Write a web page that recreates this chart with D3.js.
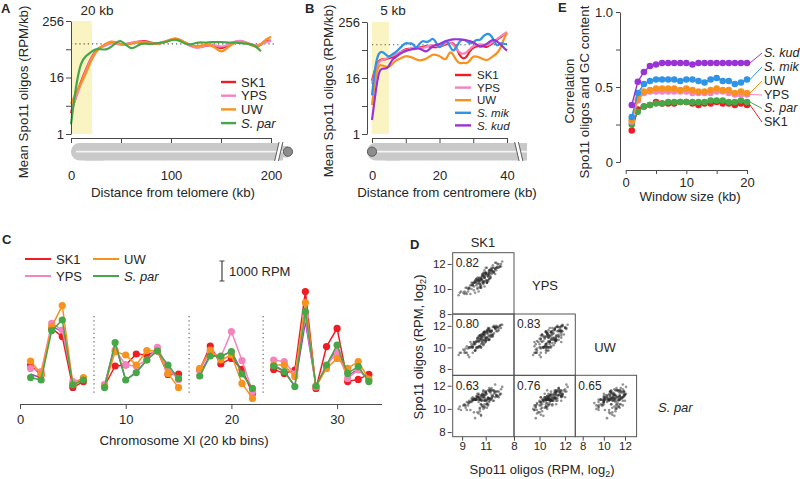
<!DOCTYPE html>
<html><head><meta charset="utf-8">
<script src="https://cdn.jsdelivr.net/npm/d3@7/dist/d3.min.js"></script>
<style>
body{margin:0;background:#fff;}
svg{display:block;font-family:"Liberation Sans",Arial,Helvetica,sans-serif;}
</style></head><body>
<svg id="c" width="800" height="479"></svg>
<script>
// ---------------- DATA ----------------
// Panel A: distance from telomere (kb) and mean Spo11 oligos (RPM/kb)
const aDist = [0,5,10,15,20,25,30,35,40,45,50,55,60,65,70,75,80,85,90,95,100,105,110,115,120,125,130,135,140,145,150,155,160,165,170,175,180,185,190,195,200];
const aSK1  = [2.8,6.5,13,24,42,62,72,80,90,86,80,82,86,90,95,96,88,84,86,92,102,110,98,88,76,70,72,76,80,72,66,72,84,94,96,88,80,72,80,96,98];
const aYPS  = [3.0,6,12,23,40,60,70,78,86,84,80,84,88,92,94,92,86,84,88,95,104,106,96,84,74,68,70,78,82,76,72,76,86,96,98,90,82,76,82,92,96];
const aUW   = [4.4,7.5,12,20,36,58,72,84,96,90,82,80,84,88,92,90,84,82,86,94,104,112,100,86,78,74,76,80,78,68,54,64,80,90,92,86,78,70,82,104,118];
const aSpar = [1.6,11,36,46,56,66,64,62,70,90,100,80,64,72,86,84,82,86,88,92,100,104,94,82,80,88,90,88,92,90,92,90,88,90,86,84,82,74,58];
const genomeAvg = 83;
// Panel B: distance from centromere (kb)
const bDist = [0,1,2,3,4,5,6,7,8,9,10,11,12,13,14,15,16,17,18,19,20,21,22,23,24,25,26,27,28,29,30,31,32,33,34,35,36,37,38,39,40];
const bSK1  = [14,27,38,41,39,44,44,48,54,62,67,68,70,71,73,74,79,76,73,74,75,80,86,90,93,73,48,41,44,62,73,76,79,76,73,82,93,105,119,135,151];
const bYPS  = [12,24,36,40,40,46,48,52,56,60,64,66,72,74,72,70,74,80,82,78,74,82,92,96,86,68,56,52,56,68,78,82,86,84,80,86,98,110,124,140,156];
const bUW   = [4.2,17,32,29.5,28,27,32,38,41,44,48,46,44,40,38,39,41,46,52,50,48,42,38,62,52,38,32,35,32,38,48,46,44,40,38,42,48,54,67,109,151];
const bMik  = [6.8,32,57,60,52,44,52,57,67,79,93,86,93,67,86,104,93,98,119,93,67,86,109,79,57,73,101,109,101,86,93,109,101,129,144,140,109,73,93,86,86];
const bKud  = [2.0,7.4,23,26,25,28,41,44,52,56,62,64,67,68,70,64,57,66,79,82,86,93,101,105,109,109,109,106,104,100,93,84,73,80,86,98,109,98,86,72,62];
// Panel C: chromosome XI, 20 kb bins (RPM)
const cBins = [1,2,3,4,5,6,8,9,10,11,12,13,14,15,17,18,19,20,21,22,24,25,26,27,28,29,30,31,32,33];
const cSK1  = [1950,1450,3780,3370,830,1120,900,1900,1950,2500,2450,2650,1480,1500,1700,2900,2000,2280,1730,530,1730,1530,1700,5620,780,2870,3780,1120,1230,1480];
const cYPS  = [1780,1620,4030,3700,1120,1250,980,2700,1950,1900,2200,2830,1750,1230,1700,2620,2350,3620,2170,620,2200,2120,1500,4370,860,1900,2620,1280,1700,1200];
const cUW   = [2150,1500,3870,4920,980,1320,880,2620,2450,1950,2670,2650,1530,820,1780,2700,2200,2450,1030,280,1950,1950,1370,5070,870,1780,2280,1780,2120,1250];
const cSpar = [1320,1200,3670,4200,950,1200,820,3070,1200,1570,2200,2650,1950,1280,1400,2400,2400,2620,1500,780,1900,1620,870,4620,900,1950,2950,1530,1870,1120];
const cExtra = [1500,1300,3900,3600,1000,1200,950,3000,1200,1600,2200,2750,1800,1250,1500,2450,2350,2650,1600,750,1950,1650,900,4100,880,1950,2800,1400,1750,1200];
const cArmEnds = [7,16,23];
// Panel D: Spo11 oligos per bin (RPM, log2)
const dSK1 = [10.2,10.8,11.3,9.6,10.5,11.0,11.7,10.1,10.9,11.4,9.3,10.6,11.1,11.9,10.4,10.0,10.7,11.2,12.1,9.8,10.3,11.5,10.8,9.1,10.6,11.0,11.8,10.2,10.9,11.3,8.7,10.5,11.6,10.1,10.8,11.2,12.3,9.9,10.4,11.1,10.7,9.5,11.4,10.9,10.3,11.7,10.6,11.0,9.7,12.0,10.2,11.3,10.8,11.5,9.4,10.6,11.1,10.0,11.9,10.5,11.2,10.7,8.9,11.6,10.4,11.0,10.9,12.2,10.1,11.4,10.8,9.9,11.3,10.6,11.8,10.3,9.2,11.1,10.7,11.5,11.0,10.5,12.4,9.6,10.9,11.2,10.4,11.7,10.8,11.3,
  10.6,11.1,9.8,10.4,11.5,10.9,12.0,10.3,11.2,9.5,10.7,11.4,10.1,11.8,10.5,9.9,11.0,11.6,10.2,12.2,10.8,9.4,11.3,10.6,11.9,10.0,11.1,10.4,8.8,11.5,10.9,11.7,10.3,9.7,11.2,10.6,12.1,10.8,11.0,9.3,11.4,10.5,10.1,11.8,10.7,11.3,9.6,10.9,11.6,10.2,11.0,12.3,10.4,9.9,11.2,10.8,11.5,10.0,10.6,11.9,9.2,11.1,10.7,11.4,10.3,12.0,10.9,9.8,11.3,10.5];
const dYPS = [10.5,10.6,11.4,10.1,10.1,11.2,11.4,10.7,10.9,10.9,9.7,10.7,10.5,12.1,10.7,9.9,11.2,11.0,11.7,10.5,10.0,11.5,11.2,9.7,10.1,11.3,11.6,10.3,10.2,11.5,9.5,10.4,11.9,9.7,11.3,11.2,12.0,10.3,10.6,10.5,10.5,10.0,11.5,10.6,10.9,11.3,10.8,11.7,9.6,12.0,10.6,10.8,11.1,11.6,9.6,10.3,11.7,10.5,11.7,10.4,11.3,11.1,9.8,11.4,9.8,11.3,10.9,11.8,10.6,11.6,10.4,10.5,11.2,10.8,12.1,10.1,9.6,10.6,10.8,11.5,11.3,10.2,12.2,10.1,11.0,10.6,10.8,11.7,10.5,11.5,
  10.8,10.7,10.3,10.5,11.2,11.5,11.8,10.7,10.7,9.8,10.7,11.3,10.5,11.2,10.7,10.4,10.7,11.7,10.8,11.8,10.6,10.1,11.3,10.9,11.5,10.2,10.5,10.9,9.7,11.4,11.3,11.4,10.4,10.3,11.0,10.1,12.0,11.1,11.2,10.1,11.0,10.6,10.6,11.6,11.0,10.8,10.0,10.9,11.3,10.8,11.2,11.8,10.7,10.3,11.1,10.5,11.7,10.5,10.2,11.7,9.8,11.1,11.0,10.9,10.7,11.7,11.0,10.0,11.1,10.9];
const dUW = [9.9,11.2,11.5,9.1,11.1,10.9,12.0,9.7,11.4,11.4,9.5,10.0,11.5,11.7,10.5,10.5,10.4,11.8,11.6,10.1,10.8,11.2,10.7,9.8,10.8,10.6,11.9,10.6,11.2,10.7,9.3,10.8,11.2,10.3,10.6,11.7,11.8,10.0,11.0,11.5,11.0,9.3,11.0,11.4,10.0,11.9,11.0,10.5,10.5,11.9,10.0,11.8,10.2,11.5,10.1,11.0,10.9,10.3,12.0,10.1,10.7,10.7,9.5,11.9,10.6,10.7,11.4,12.0,9.7,11.5,11.0,9.5,11.7,10.0,11.8,10.8,9.5,11.3,10.5,11.0,10.9,11.1,12.1,10.0,10.4,11.3,10.6,11.3,11.4,11.6,
  10.3,11.6,10.0,10.0,11.6,11.5,11.5,10.6,11.0,9.9,11.2,11.1,9.7,11.8,11.1,10.1,10.9,11.1,10.5,12.0,11.2,9.5,10.7,10.8,11.9,10.5,11.4,10.1,9.5,11.1,10.7,11.9,10.9,10.0,10.7,10.6,11.8,11.3,10.6,9.9,11.5,10.1,10.4,11.7,11.2,11.1,10.0,11.1,11.0,10.5,10.7,12.1,10.9,10.0,11.6,10.3,11.5,10.3,11.2,11.5,9.7,10.9,10.9,11.5,10.0,11.9,11.3,10.3,10.8,10.7];
const dSpar = [10.8,10.0,11.6,10.5,10.0,11.4,10.7,10.8,10.7,11.5,10.1,10.8,10.4,11.5,11.3,9.7,11.2,10.3,11.5,10.9,9.7,11.8,11.6,10.3,9.5,11.5,11.5,10.8,10.1,11.5,10.0,10.1,11.6,9.2,11.5,11.0,11.7,10.8,10.8,10.1,10.2,10.3,11.7,10.2,11.3,11.3,11.2,10.7,9.9,11.5,11.1,10.7,11.2,11.6,9.9,9.4,11.3,10.8,11.2,10.8,10.9,11.3,9.9,11.1,9.6,11.4,10.8,11.3,10.8,11.4,11.3,10.8,10.9,10.4,12.1,11.0,10.3,10.5,10.8,11.2,11.2,9.8,11.9,10.6,10.7,11.6,11.2,11.6,10.2,11.8,
  11.1,10.4,10.7,10.6,10.9,11.2,11.1,11.1,10.9,10.5,10.3,11.6,10.8,11.0,10.9,11.0,10.8,11.1,10.8,11.2,11.1,10.6,10.9,10.7,11.2,10.8,10.8,11.0,10.2,10.9,10.4,11.5,11.0,10.6,10.4,11.0,11.0,11.0,11.5,10.3,10.8,10.8,10.9,11.4,10.7,10.6,10.7,11.2,10.7,10.8,11.4,11.3,11.0,10.7,10.9,11.0,11.0,10.9,10.4,11.1,10.4,10.7,11.2,10.8,11.0,11.1,11.0,10.6,10.9,10.8];
const dStrains = ["SK1","YPS","UW","S. par"];
const dCorr = ["0.82","0.80","0.83","0.63","0.76","0.65"];
// Panel E: correlation vs window size
const eWin  = [1,2,3,4,5,6,7,8,9,10,11,12,13,14,15,16,17,18,19,20];
const eSK1  = [0.21,0.35,0.37,0.38,0.40,0.39,0.39,0.39,0.40,0.40,0.39,0.38,0.39,0.39,0.40,0.39,0.39,0.38,0.39,0.38];
const eSpar = [0.25,0.335,0.37,0.38,0.39,0.39,0.40,0.40,0.40,0.40,0.40,0.40,0.40,0.41,0.41,0.41,0.40,0.40,0.41,0.40];
const eYPS  = [0.27,0.41,0.46,0.47,0.47,0.47,0.47,0.47,0.47,0.47,0.46,0.46,0.46,0.46,0.47,0.47,0.46,0.45,0.45,0.45];
const eUW   = [0.28,0.42,0.47,0.48,0.49,0.49,0.49,0.49,0.48,0.49,0.48,0.47,0.47,0.48,0.49,0.48,0.48,0.46,0.47,0.46];
const eMik  = [0.30,0.46,0.52,0.54,0.55,0.55,0.55,0.55,0.54,0.55,0.55,0.54,0.53,0.55,0.56,0.54,0.54,0.52,0.53,0.55];
const eKud  = [0.38,0.535,0.60,0.64,0.65,0.66,0.66,0.66,0.66,0.66,0.65,0.66,0.66,0.66,0.66,0.66,0.66,0.66,0.66,0.66];

// ---------------- DRAWING ----------------
const COL = {"SK1":"#ee1d23","YPS":"#f384bd","UW":"#f8921e","S. par":"#47a647","S. mik":"#2e94e6","S. kud":"#9a33d6","extra":"#9a46c8"};
const FONT = "'Liberation Sans', Arial, Helvetica, sans-serif";
const TXT = "#262626", AX = "#4a4a4a";
const svg = d3.select("#c");
svg.append("rect").attr("width",800).attr("height",479).attr("fill","#fff");

function txt(g, x, y, s, o = {}) {
  const t = g.append("text").attr("x", x).attr("y", y).text(s)
    .attr("font-size", o.size || 13).attr("fill", o.fill || TXT)
    .attr("text-anchor", o.anchor || "start").attr("font-family", FONT);
  if (o.italic) t.attr("font-style", "italic");
  if (o.bold) t.attr("font-weight", "bold");
  if (o.dy) t.attr("dy", o.dy);
  if (o.rotate) t.attr("transform", `rotate(-90,${x},${y})`);
  return t;
}
function styleAxis(g, size) {
  g.attr("font-family", FONT).attr("font-size", size || 13);
  g.selectAll("path,line").attr("stroke", AX).attr("stroke-width", 1);
  g.selectAll("text").attr("fill", TXT);
  return g;
}
const toPts = (xs, vs) => vs.map((v, i) => ({x: xs[i], v}));

// ---------- Panel A ----------
const gA = svg.append("g");
const ax = d3.scaleLinear().domain([0, 200]).range([71, 271]);
const ay = d3.scaleLog().base(2).domain([1, 256]).range([134, 21]);
gA.append("rect").attr("x", ax(0) + 1).attr("y", ay(256)).attr("width", ax(20) - ax(0)).attr("height", ay(1) - ay(256)).attr("fill", "#faf4c2");
gA.append("line").attr("x1", ax(0)).attr("x2", ax(205)).attr("y1", ay(genomeAvg)).attr("y2", ay(genomeAvg))
  .attr("stroke", "#555").attr("stroke-width", 1.2).attr("stroke-dasharray", "1.2,3");
const lineA = d3.line().x(d => ax(d.x)).y(d => ay(d.v)).curve(d3.curveBasis);
[["SK1", aSK1], ["YPS", aYPS], ["UW", aUW], ["S. par", aSpar]].forEach(([k, vs]) => {
  gA.append("path").datum(toPts(aDist, vs)).attr("d", lineA).attr("fill", "none")
    .attr("stroke", COL[k]).attr("stroke-width", 2.2).attr("stroke-linejoin", "round");
});
styleAxis(gA.append("g").attr("transform", "translate(71,0)")
  .call(d3.axisLeft(ay).tickValues([1, 4, 16, 64, 256]).tickFormat(d => [1, 16, 256].includes(d) ? d : "").tickSize(5).tickSizeOuter(0).tickPadding(2)));
styleAxis(gA.append("g").attr("transform", "translate(0,138)")
  .call(d3.axisBottom(ax).tickValues([0, 50, 100, 150, 200]).tickFormat(d => d % 100 === 0 ? d : "").tickSize(5).tickSizeOuter(0).tickPadding(28)));
// chromosome cartoon (telomere left, centromere right)
const chrGrey = "#c9c9c9";
gA.append("rect").attr("x", 71).attr("y", 143).attr("width", 40).attr("height", 17.5).attr("rx", 8.5).attr("fill", chrGrey);
gA.append("rect").attr("x", 85).attr("y", 143).attr("width", 198).attr("height", 17.5).attr("fill", chrGrey);
gA.append("rect").attr("x", 282).attr("y", 146).attr("width", 6).attr("height", 11.5).attr("fill", chrGrey);
gA.append("line").attr("x1", 76).attr("x2", 283).attr("y1", 151.7).attr("y2", 151.7).attr("stroke", "#f4f4f4").attr("stroke-width", 1.8);
gA.append("polygon").attr("points", "275,162 279.5,141 282.5,141 278,162").attr("fill", "#fff");
[[274.6, 279.1], [278.4, 282.9]].forEach(([a, b]) => {
  gA.append("line").attr("x1", a).attr("y1", 161).attr("x2", b).attr("y2", 142).attr("stroke", "#555").attr("stroke-width", 0.9);
});
gA.append("circle").attr("cx", 288).attr("cy", 151.7).attr("r", 4.6).attr("fill", "#8d8d8d").attr("stroke", "#5c5c5c").attr("stroke-width", 1);
txt(gA, 1, 13, "A", {bold: true});
txt(gA, 97, 15, "20 kb", {anchor: "middle", size: 13.5});
txt(gA, ax(100) + 2, 197, "Distance from telomere (kb)", {anchor: "middle", size: 13.3});
txt(gA, 23.5, 92, "Mean Spo11 oligos (RPM/kb)", {anchor: "middle", rotate: true, dy: "0.35em", size: 13.3});
[["SK1", false], ["YPS", false], ["UW", false], ["S. par", true]].forEach(([k, it], i) => {
  const y = 82 + i * 13.7;
  gA.append("line").attr("x1", 221).attr("x2", 236).attr("y1", y).attr("y2", y).attr("stroke", COL[k]).attr("stroke-width", 2.4);
  txt(gA, 241, y, k, {dy: "0.36em", italic: it});
});

// ---------- Panel B ----------
const gB = svg.append("g");
const bx = d3.scaleLinear().domain([0, 40]).range([372, 507]);
const by = d3.scaleLog().base(2).domain([1, 256]).range([134, 22]);
gB.append("rect").attr("x", bx(0)).attr("y", by(256)).attr("width", bx(5) - bx(0)).attr("height", by(1) - by(256)).attr("fill", "#faf4c2");
gB.append("line").attr("x1", bx(0)).attr("x2", bx(40)).attr("y1", by(genomeAvg)).attr("y2", by(genomeAvg))
  .attr("stroke", "#555").attr("stroke-width", 1.2).attr("stroke-dasharray", "1.2,3");
const lineB = d3.line().x(d => bx(d.x)).y(d => by(d.v)).curve(d3.curveBasis);
[["SK1", bSK1], ["YPS", bYPS], ["UW", bUW], ["S. mik", bMik], ["S. kud", bKud]].forEach(([k, vs]) => {
  gB.append("path").datum(toPts(bDist, vs)).attr("d", lineB).attr("fill", "none")
    .attr("stroke", COL[k]).attr("stroke-width", 2.2).attr("stroke-linejoin", "round");
});
styleAxis(gB.append("g").attr("transform", "translate(367,0)")
  .call(d3.axisLeft(by).tickValues([1, 4, 16, 64, 256]).tickFormat(d => [1, 16, 256].includes(d) ? d : "").tickSize(5).tickSizeOuter(0).tickPadding(2)));
styleAxis(gB.append("g").attr("transform", "translate(0,138)")
  .call(d3.axisBottom(bx).tickValues([0, 10, 20, 30, 40]).tickFormat(d => d % 20 === 0 ? d : "").tickSize(5).tickSizeOuter(0).tickPadding(28)));
gB.append("rect").attr("x", 367).attr("y", 143).attr("width", 40).attr("height", 17.5).attr("rx", 8.5).attr("fill", chrGrey);
gB.append("rect").attr("x", 385).attr("y", 143).attr("width", 142).attr("height", 17.5).attr("fill", chrGrey);
gB.append("line").attr("x1", 376).attr("x2", 527).attr("y1", 151.7).attr("y2", 151.7).attr("stroke", "#f4f4f4").attr("stroke-width", 1.8);
gB.append("polygon").attr("points", "515,141 519.5,162 522.5,162 518,141").attr("fill", "#fff");
[[514.6, 519.1], [518.4, 522.9]].forEach(([a, b]) => {
  gB.append("line").attr("x1", a).attr("y1", 142).attr("x2", b).attr("y2", 161).attr("stroke", "#555").attr("stroke-width", 0.9);
});
gB.append("circle").attr("cx", 372).attr("cy", 151.7).attr("r", 4.6).attr("fill", "#8d8d8d").attr("stroke", "#5c5c5c").attr("stroke-width", 1);
txt(gB, 305, 13, "B", {bold: true});
txt(gB, 393, 15, "5 kb", {anchor: "middle", size: 13.5});
txt(gB, 447, 197, "Distance from centromere (kb)", {anchor: "middle", size: 13.3});
txt(gB, 328.5, 91, "Mean Spo11 oligos (RPM/kb)", {anchor: "middle", rotate: true, dy: "0.35em", size: 13.3});
[["SK1", false], ["YPS", false], ["UW", false], ["S. mik", true], ["S. kud", true]].forEach(([k, it], i) => {
  const y = 75 + i * 12.6;
  gB.append("line").attr("x1", 455).attr("x2", 471).attr("y1", y).attr("y2", y).attr("stroke", COL[k]).attr("stroke-width", 2.4);
  txt(gB, 477, y, k, {dy: "0.36em", italic: it, size: 11.5});
});

// ---------- Panel E ----------
const gE = svg.append("g");
const ex = d3.scaleLinear().domain([0, 20]).range([625.7, 747]);
const ey = d3.scaleLinear().domain([0, 1]).range([162, 12]);
const lineE = d3.line().x(d => ex(d.x)).y(d => ey(d.v));
const eSeries = [["SK1", eSK1], ["S. par", eSpar], ["YPS", eYPS], ["UW", eUW], ["S. mik", eMik], ["S. kud", eKud]];
eSeries.forEach(([k, vs]) => {
  const pts = toPts(eWin, vs);
  gE.append("path").datum(pts).attr("d", lineE).attr("fill", "none").attr("stroke", COL[k]).attr("stroke-width", 1.4);
  gE.selectAll(null).data(pts).enter().append("circle").attr("cx", d => ex(d.x)).attr("cy", d => ey(d.v)).attr("r", 3.3).attr("fill", COL[k]);
});
styleAxis(gE.append("g").attr("transform", "translate(620,0)")
  .call(d3.axisLeft(ey).tickValues([0, 0.25, 0.5, 0.75, 1]).tickFormat(d => d === 0 ? "0" : d === 0.5 ? "0.5" : d === 1 ? "1.0" : "").tickSize(4).tickSizeOuter(0).tickPadding(3)));
styleAxis(gE.append("g").attr("transform", "translate(0,170)")
  .call(d3.axisBottom(ex).tickValues([0, 5, 10, 15, 20]).tickFormat(d => d % 10 === 0 ? d : "").tickSize(4).tickSizeOuter(0).tickPadding(4)));
const eLab = [["S. kud", true, 52], ["S. mik", true, 66], ["UW", false, 80], ["YPS", false, 94], ["S. par", true, 107.5], ["SK1", false, 121]];
const eLast = {"SK1": eSK1, "S. par": eSpar, "YPS": eYPS, "UW": eUW, "S. mik": eMik, "S. kud": eKud};
eLab.forEach(([k, it, y]) => {
  const v = eLast[k][eLast[k].length - 1];
  gE.append("line").attr("x1", ex(20) + 3).attr("y1", ey(v)).attr("x2", 762).attr("y2", y + 1).attr("stroke", COL[k]).attr("stroke-width", 1);
  txt(gE, 764, y, k, {dy: "0.36em", italic: it, size: 12.5});
});
txt(gE, 558, 12, "E", {bold: true});
txt(gE, 690, 201, "Window size (kb)", {anchor: "middle", size: 13.3});
txt(gE, 569, 91, "Correlation", {anchor: "middle", rotate: true, dy: "0.35em", size: 13.3});
txt(gE, 584, 92, "Spo11 oligos and GC content", {anchor: "middle", rotate: true, dy: "0.35em", size: 13.3});

// ---------- Panel C ----------
const gC = svg.append("g");
const cx = d3.scaleLinear().domain([0, 34.2]).range([20, 381.5]);
const cy = d3.scaleLinear().domain([0, 6000]).range([404, 284]);
cArmEnds.forEach(b => {
  gC.append("line").attr("x1", cx(b)).attr("x2", cx(b)).attr("y1", 316).attr("y2", 394)
    .attr("stroke", "#666").attr("stroke-width", 1.2).attr("stroke-dasharray", "1.2,3");
});
function segments(vals) {
  const segs = []; let cur = [];
  cBins.forEach((b, i) => {
    if (i > 0 && b - cBins[i - 1] > 1) { segs.push(cur); cur = []; }
    cur.push({x: b, v: vals[i]});
  });
  segs.push(cur); return segs;
}
const lineC = d3.line().x(d => cx(d.x)).y(d => cy(d.v));
segments(cExtra).forEach(s => gC.append("path").datum(s).attr("d", lineC).attr("fill", "none").attr("stroke", COL.extra).attr("stroke-width", 1.4));
[["SK1", cSK1], ["YPS", cYPS], ["UW", cUW], ["S. par", cSpar]].forEach(([k, vs]) => {
  segments(vs).forEach(s => {
    gC.append("path").datum(s).attr("d", lineC).attr("fill", "none").attr("stroke", COL[k]).attr("stroke-width", 1.5);
    gC.selectAll(null).data(s).enter().append("circle").attr("cx", d => cx(d.x)).attr("cy", d => cy(d.v)).attr("r", 3.6).attr("fill", COL[k]);
  });
});
styleAxis(gC.append("g").attr("transform", "translate(0,404)")
  .call(d3.axisBottom(cx).tickValues([0, 10, 20, 30]).tickSize(5).tickSizeOuter(0).tickPadding(6)));
txt(gC, 2, 244, "C", {bold: true});
txt(gC, 184, 445, "Chromosome XI (20 kb bins)", {anchor: "middle", size: 13.3});
[["SK1", false, 25, 259], ["YPS", false, 25, 276], ["UW", false, 93, 259], ["S. par", true, 93, 276]].forEach(([k, it, x, y]) => {
  gC.append("line").attr("x1", x).attr("x2", x + 26).attr("y1", y).attr("y2", y).attr("stroke", COL[k]).attr("stroke-width", 2);
  txt(gC, x + 31, y, k, {dy: "0.36em", italic: it});
});
const sb0 = 261, sbLen = cy(0) - cy(1000);
gC.append("line").attr("x1", 222).attr("x2", 222).attr("y1", sb0).attr("y2", sb0 + sbLen).attr("stroke", "#444").attr("stroke-width", 1.2);
gC.append("line").attr("x1", 219.5).attr("x2", 224.5).attr("y1", sb0).attr("y2", sb0).attr("stroke", "#444");
gC.append("line").attr("x1", 219.5).attr("x2", 224.5).attr("y1", sb0 + sbLen).attr("y2", sb0 + sbLen).attr("stroke", "#444");
txt(gC, 229, sb0 + sbLen / 2, "1000 RPM", {dy: "0.36em"});

// ---------- Panel D ----------
const gD = svg.append("g");
const dColX = [452.7, 514, 575.3], dRowY = [252.7, 314, 375.3], dW = 61.3, dH = 61.4;
const dXdom = [[8.2, 13.4], [8, 12.8], [7.3, 13.1]];
const dYdom = [[8, 12.9], [7.4, 13.1], [7.6, 12.9]];
const dXticks = [[9, 11], [8, 10, 12], [8, 10, 12]];
const dData = {"SK1": dSK1, "YPS": dYPS, "UW": dUW, "S. par": dSpar};
const fmtInt = d3.format("d");
let pi = 0;
for (let r = 0; r < 3; r++) {
  for (let c = 0; c <= r; c++) {
    const xs = d3.scaleLinear().domain(dXdom[c]).range([dColX[c], dColX[c] + dW]);
    const ys = d3.scaleLinear().domain(dYdom[r]).range([dRowY[r] + dH, dRowY[r]]);
    const xa = dData[dStrains[c]], ya = dData[dStrains[r + 1]];
    const id = "clip" + pi;
    gD.append("clipPath").attr("id", id).append("rect").attr("x", dColX[c]).attr("y", dRowY[r]).attr("width", dW).attr("height", dH);
    gD.append("g").attr("clip-path", `url(#${id})`).selectAll("circle").data(xa).enter().append("circle")
      .attr("cx", (d, i) => xs(d)).attr("cy", (d, i) => ys(ya[i])).attr("r", 1.3)
      .attr("fill", "#2a2a2a").attr("fill-opacity", 0.5);
    gD.append("rect").attr("x", dColX[c]).attr("y", dRowY[r]).attr("width", dW).attr("height", dH)
      .attr("fill", "none").attr("stroke", "#555").attr("stroke-width", 1);
    txt(gD, dColX[c] + 3, dRowY[r] + 10, dCorr[pi], {size: 12, dy: "0.36em"});
    if (c === 0) {
      const g = styleAxis(gD.append("g").attr("transform", `translate(${dColX[0] - 1},0)`)
        .call(d3.axisLeft(ys).tickValues([8, 10, 12]).tickFormat(fmtInt).tickSize(4).tickPadding(2).tickSizeOuter(0)), 11.5);
      g.select(".domain").remove();
    }
    if (r === 2) {
      const g = styleAxis(gD.append("g").attr("transform", `translate(0,${dRowY[2] + dH})`)
        .call(d3.axisBottom(xs).tickValues(dXticks[c]).tickFormat(fmtInt).tickSize(4).tickPadding(1).tickSizeOuter(0)), 11.5);
      g.select(".domain").remove();
    }
    pi++;
  }
}
txt(gD, 410, 249, "D", {bold: true});
txt(gD, 483, 247, "SK1", {anchor: "middle"});
txt(gD, 545, 285, "YPS", {anchor: "middle", dy: "0.36em"});
txt(gD, 605, 347, "UW", {anchor: "middle", dy: "0.36em"});
txt(gD, 658, 407, "S. par", {italic: true, dy: "0.36em"});
const xt = txt(gD, 542, 474, "Spo11 oligos (RPM, log", {anchor: "middle", size: 13});
xt.append("tspan").attr("font-size", 9).attr("dy", 3).text("2");
xt.append("tspan").attr("dy", -3).text(")");
const yt = txt(gD, 418, 347, "Spo11 oligos (RPM, log", {anchor: "middle", size: 13, rotate: true, dy: "0.35em"});
yt.append("tspan").attr("font-size", 9).attr("dy", 3).text("2");
yt.append("tspan").attr("dy", -3).text(")");
</script></body></html>
